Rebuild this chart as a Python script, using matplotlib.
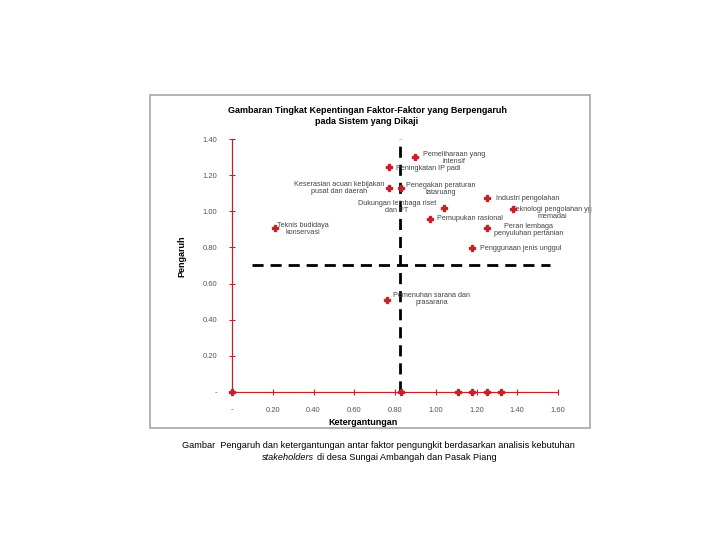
import matplotlib
matplotlib.use("Agg")
import matplotlib.pyplot as plt
from matplotlib.patches import Rectangle

plt.rcParams['font.family'] = ['Liberation Sans', 'DejaVu Sans']

# ---- data ----
labels = [
    "Pemeliharaan yang\nintensif",
    "Peningkatan IP padi",
    "Keserasian acuan kebijakan\npusat dan daerah",
    "Penegakan peraturan\ntataruang",
    "Industri pengolahan",
    "Teknologi pengolahan yg\nmemadai",
    "Dukungan lembaga riset\ndan PT",
    "Pemupukan rasional",
    "Peran lembaga\npenyuluhan pertanian",
    "Penggunaan jenis unggul",
    "Teknis budidaya\nkonservasi",
    "Pemenuhan sarana dan\nprasarana",
]
ketergantungan = [0.90, 0.77, 0.77, 0.83, 1.25, 1.38, 1.04, 0.97, 1.25, 1.18, 0.21, 0.76]
pengaruh = [1.30, 1.245, 1.13, 1.13, 1.075, 1.015, 1.02, 0.96, 0.905, 0.795, 0.905, 0.51]

zero_x = [0.0, 0.83, 1.11, 1.18, 1.25, 1.32]
zero_y = [0.0, 0.0, 0.0, 0.0, 0.0, 0.0]

x_ticks = [0.0, 0.2, 0.4, 0.6, 0.8, 1.0, 1.2, 1.4, 1.6]
x_ticklabels = ["-", "0.20", "0.40", "0.60", "0.80", "1.00", "1.20", "1.40", "1.60"]
y_ticks = [0.0, 0.2, 0.4, 0.6, 0.8, 1.0, 1.2, 1.4]
y_ticklabels = ["-", "0.20", "0.40", "0.60", "0.80", "1.00", "1.20", "1.40"]

cut_x = 0.825
cut_y = 0.705

# label layout (pixel offsets, alignment)
label_layout = [
    (39, -1, 'center'),
    (7, -1, 'left'),
    (-5, 0, 'right'),
    (40, -1, 'center'),
    (9, -1, 'left'),
    (39, -4, 'center'),
    (-8, 1, 'right'),
    (7, 0, 'left'),
    (42, -2, 'center'),
    (8, 0, 'left'),
    (28, -1, 'center'),
    (45, 1, 'center'),
]

red = '#c8202a'

fig = plt.figure(figsize=(7.2, 5.4), dpi=100)
fig.patch.set_facecolor('white')

# chart frame
fig.patches.append(Rectangle((150/720, 1-428/540), 440/720, 333/540,
                             transform=fig.transFigure, fill=False,
                             edgecolor='#a6a6a6', linewidth=1.2))

ax = fig.add_axes([232/720, 1-392/540, 326/720, 253/540])
ax.set_xlim(0, 1.6)
ax.set_ylim(0, 1.4)
for s in ['top', 'right']:
    ax.spines[s].set_visible(False)
for s in ['left', 'bottom']:
    ax.spines[s].set_color(red)
    ax.spines[s].set_linewidth(0.9)
ax.set_xticks(x_ticks)
ax.set_xticklabels(x_ticklabels)
ax.set_yticks(y_ticks)
ax.set_yticklabels(y_ticklabels)
ax.tick_params(axis='both', direction='inout', length=5, width=0.8, color=red,
               labelsize=5.5, labelcolor='#555555', pad=8)

# cut-off lines
ax.plot([cut_x, cut_x], [0, 1.4], color='black', lw=2, ls=(0, (4, 2.5)), clip_on=False)
ax.plot([0.1, 1.56], [cut_y, cut_y], color='black', lw=2, ls=(0, (4, 2.5)), clip_on=False)

ax.plot(ketergantungan, pengaruh, ls='none', marker='P', ms=4.5, color=red,
        mec=red, clip_on=False, zorder=5)
ax.plot(zero_x, zero_y, ls='none', marker='P', ms=4.5, color=red,
        mec=red, clip_on=False, zorder=5)

for lab, x, y, (dx, dy, ha) in zip(labels, ketergantungan, pengaruh, label_layout):
    ax.annotate(lab, (x, y), xytext=(dx, dy), textcoords='offset pixels',
                ha=ha, va='center', multialignment='center',
                fontsize=5.2, color='#444444', linespacing=1.0)

ax.set_xlabel("Ketergantungan", fontsize=6.5, fontweight='bold', labelpad=4)
ax.xaxis.set_label_coords((363-232)/326, -(418-392)/253)
ax.set_ylabel("Pengaruh", fontsize=6.5, fontweight='bold')
ax.yaxis.set_label_coords(-(232-186)/326, (392-256)/253)

fig.text(367/720, 1-116/540, "Gambaran Tingkat Kepentingan Faktor-Faktor yang Berpengaruh\npada Sistem yang Dikaji",
         ha='center', va='center', fontsize=6.5, fontweight='bold', linespacing=1.2)

fig.text(378/720, 1-445/540,
         "Gambar  Pengaruh dan ketergantungan antar faktor pengungkit berdasarkan analisis kebutuhan",
         ha='center', va='center', fontsize=6.6)
fig.text(314/720, 1-458/540, "stakeholders", style='italic',
         ha='right', va='center', fontsize=6.6)
fig.text(317/720, 1-458/540, "di desa Sungai Ambangah dan Pasak Piang",
         ha='left', va='center', fontsize=6.6)

fig.savefig("out.png", dpi=100, facecolor='white')
